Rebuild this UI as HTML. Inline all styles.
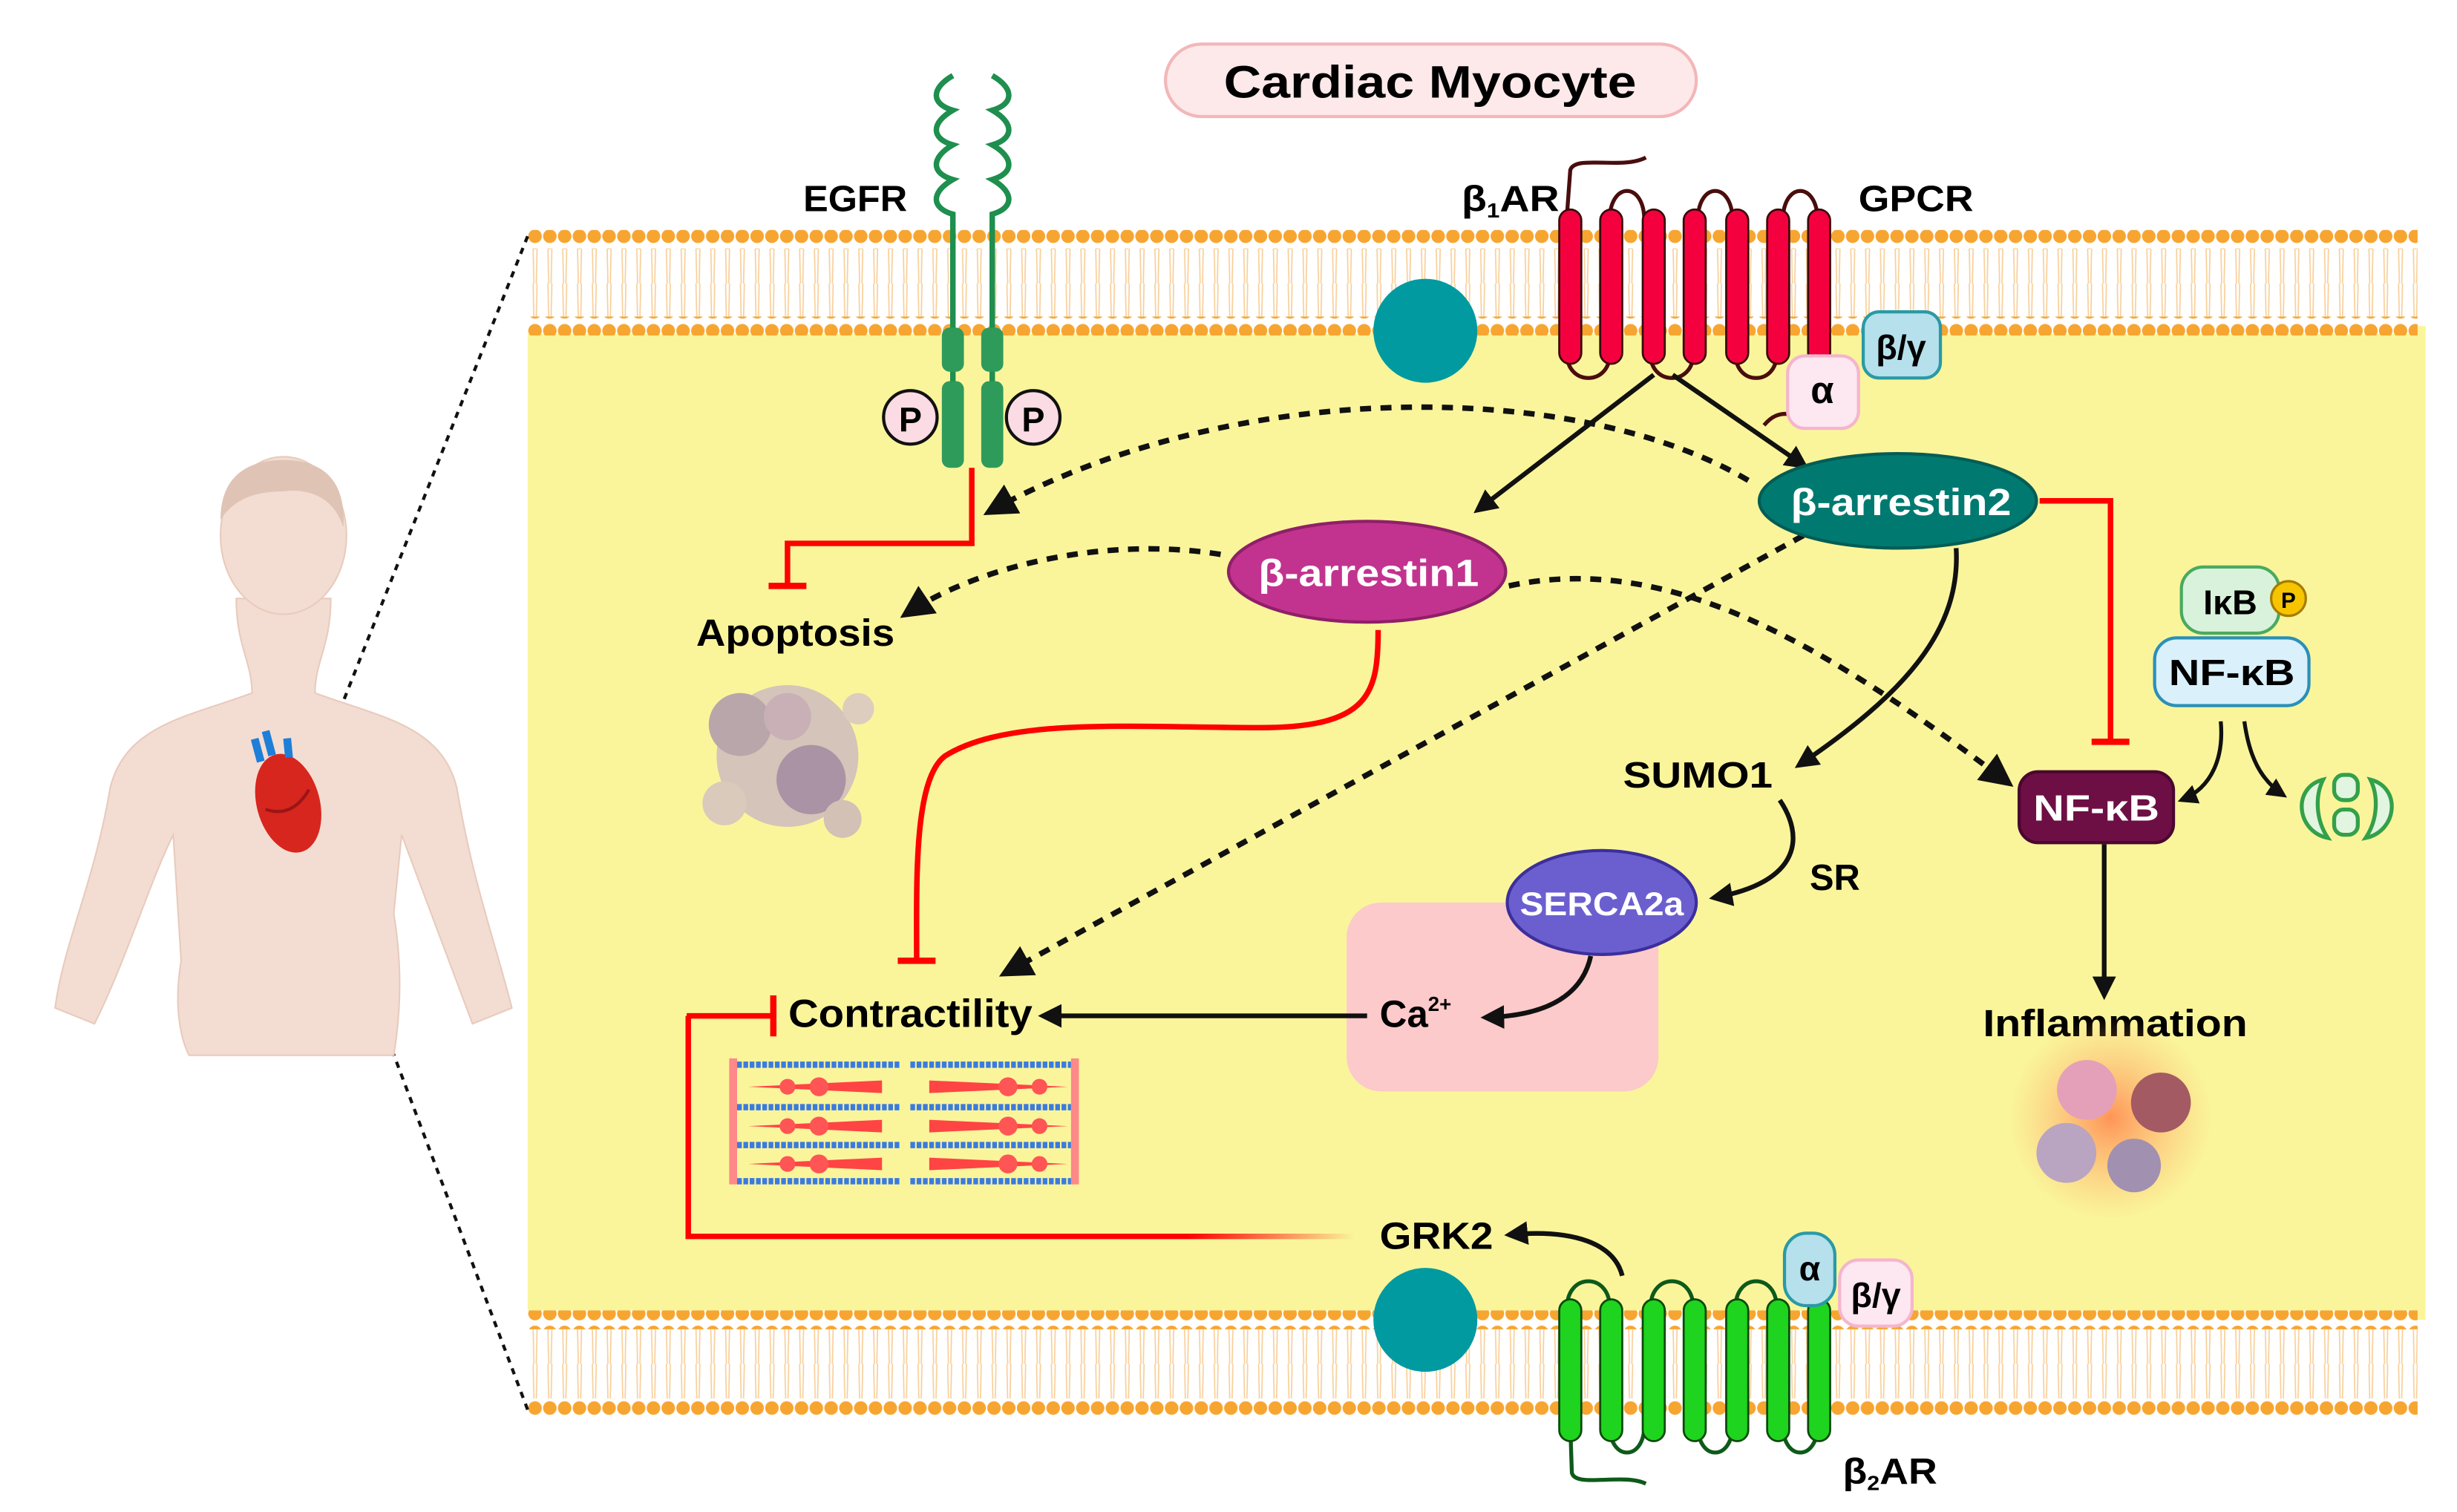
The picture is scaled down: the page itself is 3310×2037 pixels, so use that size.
<!DOCTYPE html>
<html><head><meta charset="utf-8"><style>html,body{margin:0;padding:0;background:#fff}svg{display:block}text{font-family:"Liberation Sans",sans-serif;font-weight:bold}</style></head><body>
<svg width="3310" height="2037" viewBox="0 0 1560 960" preserveAspectRatio="none" xmlns="http://www.w3.org/2000/svg">
<defs>
<pattern id="dots" x="335" y="0" width="9.4" height="12" patternUnits="userSpaceOnUse"><circle cx="4.7" cy="6" r="4.3" fill="#f7a531"/></pattern>
<pattern id="tails" x="335" y="158" width="9.4" height="22" patternUnits="userSpaceOnUse"><path d="M3.5 0 L4 22 M6 0 L5.5 22" stroke="#f8cf9a" stroke-width="0.8" fill="none"/></pattern>
<pattern id="tails2" x="335" y="844" width="9.4" height="22" patternUnits="userSpaceOnUse"><path d="M3.5 0 L4 22 M6 0 L5.5 22" stroke="#f8cf9a" stroke-width="0.8" fill="none"/></pattern>
<marker id="ah" viewBox="0 0 10 10" refX="8" refY="5" markerWidth="5" markerHeight="5" orient="auto"><path d="M0 0 L10 5 L0 10 z" fill="#111"/></marker>
<marker id="ahs" viewBox="0 0 10 10" refX="8" refY="5" markerWidth="6" markerHeight="6" orient="auto"><path d="M0 0 L10 5 L0 10 z" fill="#111"/></marker>
<linearGradient id="gr" x1="0" x2="1"><stop offset="0" stop-color="#f00"/><stop offset="0.75" stop-color="#f00"/><stop offset="1" stop-color="#f00" stop-opacity="0"/></linearGradient>
<radialGradient id="glow"><stop offset="0" stop-color="#ff8a50" stop-opacity="0.9"/><stop offset="1" stop-color="#ffb070" stop-opacity="0"/></radialGradient>
</defs>
<rect x="335" y="207" width="1205" height="631" fill="#faf59b"/>
<g>
<rect x="335" y="146" width="1200" height="66" fill="#fff"/>
<rect x="335" y="158" width="1200" height="44" fill="url(#tails)"/>
<rect x="335" y="146" width="1200" height="12" fill="url(#dots)"/>
<rect x="335" y="201" width="1200" height="12" fill="url(#dots)"/>
<rect x="335" y="832" width="1200" height="68" fill="#fff"/>
<rect x="335" y="844" width="1200" height="44" fill="url(#tails2)"/>
<rect x="335" y="832" width="1200" height="12" fill="url(#dots)"/>
<rect x="335" y="889" width="1200" height="12" fill="url(#dots)"/>
</g>
<path d="M335 150 L205 478 M335 895 L203 545" stroke="#111" stroke-width="2" stroke-dasharray="4 4" fill="none"/>
<g fill="#f3ddd2" stroke="#e8cbbd" stroke-width="1">
<path d="M150 380 C150 410 160 420 160 440 C120 455 80 460 70 500 C60 560 40 600 35 640 L60 650 C80 610 95 560 110 530 L115 610 C110 640 115 660 120 670 L250 670 C255 640 255 610 250 580 L255 530 C270 570 285 610 300 650 L325 640 C315 600 300 560 290 500 C280 460 240 455 200 440 C200 420 210 410 210 380 Z"/>
<ellipse cx="180" cy="340" rx="40" ry="50"/>
</g>
<path d="M140 330 C140 300 160 292 180 292 C205 292 220 305 218 335 C212 315 195 310 180 312 C160 312 148 318 140 330Z" fill="#dfc4b6"/>
<g transform="translate(183,510) rotate(-15)"><ellipse cx="0" cy="0" rx="20" ry="32" fill="#d7261e"/><path d="M-10 -30 L-10 -45 M-2 -32 L-2 -48 M8 -28 L10 -40" stroke="#1e7fd8" stroke-width="5"/><path d="M-15 0 Q0 10 15 -5" stroke="#9b1515" stroke-width="2" fill="none"/></g>
<rect x="740" y="28" width="337" height="46" rx="23" fill="#fde9ea" stroke="#f3b7b9" stroke-width="2"/>
<text x="908" y="62" font-size="29" text-anchor="middle" textLength="262" lengthAdjust="spacingAndGlyphs">Cardiac Myocyte</text>
<g stroke="#1e8f4e" stroke-width="3.5" fill="none">
<path d="M605 48 c-14 8 -14 18 0 22 c-14 8 -14 18 0 22 c-14 8 -14 18 0 22 c-14 8 -14 18 0 22 L605 295"/>
<path d="M630 48 c14 8 14 18 0 22 c14 8 14 18 0 22 c14 8 14 18 0 22 c14 8 14 18 0 22 L630 295"/>
</g>
<g fill="#2e9b5a"><rect x="598" y="208" width="14" height="28" rx="5"/><rect x="623" y="208" width="14" height="28" rx="5"/><rect x="598" y="242" width="14" height="55" rx="5"/><rect x="623" y="242" width="14" height="55" rx="5"/></g>
<text x="510" y="134" font-size="23" textLength="66" lengthAdjust="spacingAndGlyphs">EGFR</text>
<g stroke="#111" stroke-width="2" fill="#fbdbe4"><circle cx="578" cy="265" r="17"/><circle cx="656" cy="265" r="17"/></g>
<text x="578" y="274" font-size="22" text-anchor="middle">P</text><text x="656" y="274" font-size="22" text-anchor="middle">P</text>
<circle cx="905" cy="210" r="33" fill="#009aa0"/>
<g fill="none" stroke="#4a0d0d" stroke-width="2.5">
<path d="M995 135 L997 108 C1000 98 1030 108 1045 100"/>
<path d="M1022 140 C1022 115 1044 115 1044 140 M1078 140 C1078 115 1100 115 1100 140 M1132 140 C1132 115 1154 115 1154 140"/>
<path d="M995 225 C995 245 1022 245 1022 225 M1048 225 C1048 245 1075 245 1075 225 M1102 225 C1102 245 1128 245 1128 225"/>
<path d="M1120 270 C1125 264 1130 262 1137 263"/>
</g>
<g fill="#f5003e" stroke="#3a0a0a" stroke-width="1.3">
<rect x="990" y="133" width="14" height="98" rx="7"/><rect x="1016" y="133" width="14" height="98" rx="7"/><rect x="1043" y="133" width="14" height="98" rx="7"/><rect x="1069" y="133" width="14" height="98" rx="7"/><rect x="1096" y="133" width="14" height="98" rx="7"/><rect x="1122" y="133" width="14" height="98" rx="7"/><rect x="1148" y="133" width="14" height="98" rx="7"/>
</g>
<text x="928" y="134" font-size="23" textLength="62" lengthAdjust="spacingAndGlyphs">β<tspan font-size="13" dy="4">1</tspan><tspan dy="-4">AR</tspan></text>
<text x="1180" y="134" font-size="23" textLength="73" lengthAdjust="spacingAndGlyphs">GPCR</text>
<rect x="1183" y="198" width="49" height="42" rx="10" fill="#b5e0ec" stroke="#2a9aa5" stroke-width="2"/>
<text x="1207" y="228" font-size="22" text-anchor="middle">β/γ</text>
<rect x="1135" y="226" width="45" height="46" rx="11" fill="#fde7f1" stroke="#f5b5cd" stroke-width="2"/>
<text x="1157" y="256" font-size="24" text-anchor="middle">α</text>
<path d="M1050 238 L938 324" stroke="#111" stroke-width="3" fill="none" marker-end="url(#ah)"/>
<path d="M1062 238 L1146 296" stroke="#111" stroke-width="3" fill="none" marker-end="url(#ah)"/>
<g stroke="#111" stroke-width="3.5" stroke-dasharray="7 6" fill="none">
<path d="M1110 305 C1000 240 780 240 628 325" marker-end="url(#ahs)"/>
<path d="M775 352 C700 340 620 360 575 390" marker-end="url(#ahs)"/>
<path d="M958 372 C1060 350 1160 410 1275 497" marker-end="url(#ahs)"/>
<path d="M1145 340 L638 618" marker-end="url(#ahs)"/>
</g>
<ellipse cx="1205" cy="318" rx="88" ry="30" fill="#007a70" stroke="#035d55" stroke-width="2"/>
<text x="1207" y="327" font-size="24" fill="#fff" text-anchor="middle" textLength="140" lengthAdjust="spacingAndGlyphs">β-arrestin2</text>
<ellipse cx="868" cy="363" rx="88" ry="32" fill="#c2338f" stroke="#8f1f68" stroke-width="2"/>
<text x="869" y="372" font-size="24" fill="#fff" text-anchor="middle" textLength="140" lengthAdjust="spacingAndGlyphs">β-arrestin1</text>
<path d="M617 297 L617 345 L500 345 L500 372" stroke="#f00" stroke-width="3.5" fill="none"/>
<path d="M488 372 L512 372" stroke="#f00" stroke-width="4"/>
<text x="505" y="410" font-size="24" text-anchor="middle" textLength="126" lengthAdjust="spacingAndGlyphs">Apoptosis</text>
<g opacity="0.75"><circle cx="500" cy="480" r="45" fill="#c8b4c4"/><circle cx="470" cy="460" r="20" fill="#a48cb0"/><circle cx="515" cy="495" r="22" fill="#8f73a8"/><circle cx="500" cy="455" r="15" fill="#b89ac0"/><circle cx="460" cy="510" r="14" fill="#d0bcc8"/><circle cx="535" cy="520" r="12" fill="#c6b0c0"/><circle cx="545" cy="450" r="10" fill="#d4c0cc"/></g>
<path d="M875 400 C875 440 870 462 800 462 C720 462 640 455 600 480 C580 495 582 560 582 610" stroke="#f00" stroke-width="3.5" fill="none"/>
<path d="M570 610 L594 610" stroke="#f00" stroke-width="4"/>
<path d="M1295 318 L1340 318 L1340 470" stroke="#f00" stroke-width="3.5" fill="none"/>
<path d="M1328 471 L1352 471" stroke="#f00" stroke-width="4"/>
<path d="M1242 348 C1245 400 1210 440 1142 486" stroke="#111" stroke-width="3" fill="none" marker-end="url(#ah)"/>
<text x="1078" y="500" font-size="23" text-anchor="middle" textLength="95" lengthAdjust="spacingAndGlyphs">SUMO1</text>
<path d="M1130 508 C1145 530 1145 560 1088 570" stroke="#111" stroke-width="3" fill="none" marker-end="url(#ah)"/>
<text x="1165" y="565" font-size="23" text-anchor="middle">SR</text>
<rect x="1385" y="360" width="62" height="42" rx="14" fill="#d9f2dc" stroke="#4aaa60" stroke-width="2"/>
<text x="1416" y="390" font-size="22" text-anchor="middle">IκB</text>
<circle cx="1453" cy="380" r="11" fill="#f7c500" stroke="#a67c00" stroke-width="1.5"/>
<text x="1453" y="386" font-size="14" text-anchor="middle">P</text>
<rect x="1368" y="405" width="98" height="43" rx="14" fill="#daf0fa" stroke="#2b90b8" stroke-width="2"/>
<text x="1417" y="435" font-size="23" text-anchor="middle" textLength="80" lengthAdjust="spacingAndGlyphs">NF-κB</text>
<path d="M1410 458 C1412 480 1405 500 1385 508" stroke="#111" stroke-width="2.5" fill="none" marker-end="url(#ah)"/>
<path d="M1425 458 C1428 480 1435 495 1450 505" stroke="#111" stroke-width="2.5" fill="none" marker-end="url(#ah)"/>
<g fill="#e2f5e0" stroke="#33a04a" stroke-width="2.5"><path d="M1475 495 C1455 500 1458 528 1478 532 C1470 520 1470 505 1475 495Z"/><path d="M1505 495 C1525 500 1522 528 1502 532 C1510 520 1510 505 1505 495Z"/><rect x="1482" y="492" width="15" height="16" rx="6"/><rect x="1482" y="514" width="15" height="16" rx="6"/></g>
<rect x="1282" y="490" width="98" height="45" rx="12" fill="#6d0f45" stroke="#4a0730" stroke-width="2"/>
<text x="1331" y="521" font-size="23" fill="#fff" text-anchor="middle" textLength="80" lengthAdjust="spacingAndGlyphs">NF-κB</text>
<path d="M1336 536 L1336 632" stroke="#111" stroke-width="3" fill="none" marker-end="url(#ah)"/>
<text x="1343" y="658" font-size="24" text-anchor="middle" textLength="168" lengthAdjust="spacingAndGlyphs">Inflammation</text>
<circle cx="1340" cy="710" r="65" fill="url(#glow)"/>
<circle cx="1325" cy="692" r="19" fill="#e4a0b8"/><circle cx="1372" cy="700" r="19" fill="#a45a62"/><circle cx="1312" cy="732" r="19" fill="#b9a4c2"/><circle cx="1355" cy="740" r="17" fill="#a290b0"/>
<rect x="855" y="573" width="198" height="120" rx="22" fill="#fccaca"/>
<ellipse cx="1017" cy="573" rx="60" ry="33" fill="#6b5fd0" stroke="#3c2f9c" stroke-width="2"/>
<text x="1017" y="581" font-size="21" fill="#fff" text-anchor="middle" textLength="104" lengthAdjust="spacingAndGlyphs">SERCA2a</text>
<path d="M1010 607 C1005 630 985 645 943 646" stroke="#111" stroke-width="3" fill="none" marker-end="url(#ah)"/>
<text x="876" y="652" font-size="24">Ca<tspan font-size="13" dy="-10">2+</tspan></text>
<path d="M868 645 L662 645" stroke="#111" stroke-width="3" fill="none" marker-end="url(#ah)"/>
<text x="578" y="652" font-size="25" text-anchor="middle" textLength="155" lengthAdjust="spacingAndGlyphs">Contractility</text>
<path d="M437 645 L437 785 L860 785" stroke="url(#gr)" stroke-width="3.5" fill="none"/>
<path d="M436 645 L490 645" stroke="#f00" stroke-width="3.5"/>
<path d="M491 632 L491 658" stroke="#f00" stroke-width="4"/>
<g>
<rect x="463" y="672" width="5" height="80" fill="#f88"/><rect x="680" y="672" width="5" height="80" fill="#f88"/>
<g stroke="#3a7be0" stroke-width="4" stroke-dasharray="3 1"><path d="M468 676 L571 676 M578 676 L680 676 M468 703 L571 703 M578 703 L680 703 M468 727 L571 727 M578 727 L680 727 M468 750 L571 750 M578 750 L680 750"/></g>
<g fill="#f44"><path d="M475 690 L560 686 L560 694 Z M678 690 L590 686 L590 694 Z M475 715 L560 711 L560 719 Z M678 715 L590 711 L590 719 Z M475 739 L560 735 L560 743 Z M678 739 L590 735 L590 743 Z"/></g>
<g fill="#f55"><circle cx="500" cy="690" r="5"/><circle cx="520" cy="690" r="6"/><circle cx="640" cy="690" r="6"/><circle cx="660" cy="690" r="5"/><circle cx="500" cy="715" r="5"/><circle cx="520" cy="715" r="6"/><circle cx="640" cy="715" r="6"/><circle cx="660" cy="715" r="5"/><circle cx="500" cy="739" r="5"/><circle cx="520" cy="739" r="6"/><circle cx="640" cy="739" r="6"/><circle cx="660" cy="739" r="5"/></g>
</g>
<text x="912" y="793" font-size="24" text-anchor="middle" textLength="72" lengthAdjust="spacingAndGlyphs">GRK2</text>
<path d="M1030 810 C1025 790 1000 780 958 784" stroke="#111" stroke-width="3" fill="none" marker-end="url(#ah)"/>
<circle cx="905" cy="838" r="33" fill="#009aa0"/>
<g fill="none" stroke="#0e5a1a" stroke-width="2.5">
<path d="M995 830 C995 808 1022 808 1022 830 M1048 830 C1048 808 1075 808 1075 830 M1102 830 C1102 808 1128 808 1128 830"/>
<path d="M1022 905 C1022 928 1044 928 1044 905 M1078 905 C1078 928 1100 928 1100 905 M1132 905 C1132 928 1154 928 1154 905"/>
<path d="M997 905 L998 935 C1000 945 1030 935 1045 942"/>
</g>
<g fill="#1ed41e" stroke="#0b4a0b" stroke-width="1.3">
<rect x="990" y="825" width="14" height="90" rx="7"/><rect x="1016" y="825" width="14" height="90" rx="7"/><rect x="1043" y="825" width="14" height="90" rx="7"/><rect x="1069" y="825" width="14" height="90" rx="7"/><rect x="1096" y="825" width="14" height="90" rx="7"/><rect x="1122" y="825" width="14" height="90" rx="7"/><rect x="1148" y="825" width="14" height="90" rx="7"/>
</g>
<rect x="1133" y="783" width="32" height="46" rx="14" fill="#b5e0ec" stroke="#2a9aa5" stroke-width="2"/>
<text x="1149" y="813" font-size="22" text-anchor="middle">α</text>
<rect x="1168" y="800" width="46" height="42" rx="12" fill="#fde7f1" stroke="#f5b5cd" stroke-width="2"/>
<text x="1191" y="830" font-size="22" text-anchor="middle">β/γ</text>
<text x="1170" y="942" font-size="23" textLength="60" lengthAdjust="spacingAndGlyphs">β<tspan font-size="13" dy="4">2</tspan><tspan dy="-4">AR</tspan></text>
</svg>
</body></html>
